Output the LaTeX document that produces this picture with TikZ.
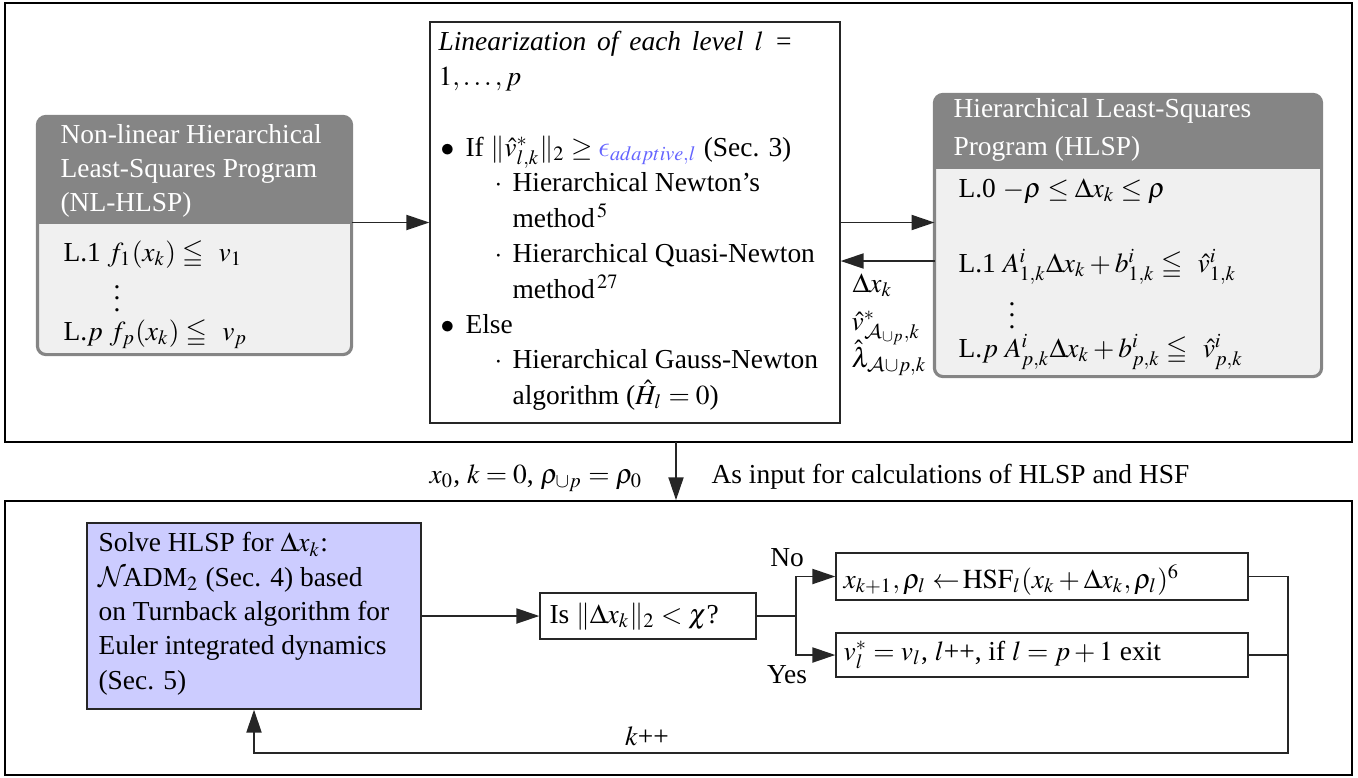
\documentclass[tikz,border=0pt]{standalone}
\usepackage{amsmath}
\usepackage{mathptmx}
\usepackage{amssymb}
\DeclareSymbolFont{cmletters}{OML}{cmm}{m}{it}
\DeclareMathSymbol{\lunateps}{\mathord}{cmletters}{"0F}
\DeclareMathAlphabet{\mathcal}{OMS}{cmsy}{m}{n}
\usepackage[no-math]{fontspec}
\setmainfont{Liberation Serif}
\usetikzlibrary{arrows.meta,fit,calc}
\definecolor{hdrgray}{RGB}{133,133,133}
\definecolor{bodygray}{RGB}{240,240,240}
\definecolor{solvefill}{RGB}{204,204,255}
\definecolor{epsblue}{RGB}{100,100,255}
\begin{document}
\begin{tikzpicture}[x=0.35pt,y=-0.35pt,
  font=\fontsize{9.6}{12}\selectfont,
  >={Triangle[length=8pt,width=5.3pt]},
  outerbox/.style={draw=black, line width=0.6pt},
  plainbox/.style={draw=black!85, line width=0.5pt, inner sep=0},
  conn/.style={draw=black!85, line width=0.5pt},
  txt/.style={anchor=base west, inner sep=0, align=left},
  hdrtxt/.style={txt, text=white},
  gframe/.style={draw=hdrgray, line width=1.1pt, rounded corners=3pt},
]
\useasboundingbox (0,0) rectangle (1358,777);

% outer frames
\node[outerbox, fit={(5,3)(1352,442)}, inner sep=0] (top) {};
\node[outerbox, fit={(5,501)(1352,775)}, inner sep=0] (bot) {};

% ---- NL-HLSP box
\node[fit={(38,117)(351,354)}, inner sep=0, fill=bodygray, rounded corners=3pt] (nl) {};
\begin{scope}
  \clip[rounded corners=3pt] (nl.north west) rectangle (nl.south east);
  \fill[hdrgray] (nl.north west) rectangle (351,224);
\end{scope}
\draw[gframe] (nl.north west) rectangle (nl.south east);
% base anchor = baseline of last line
\node[hdrtxt, font=\fontsize{9.6}{12}\selectfont] (nlh) at (60,211.6) {Non-linear Hierarchical\\Least-Squares Program\\(NL-HLSP)};
\node[txt] (nl1) at (63,261) {L.1 $f_1(x_k) \leqq\;\, v_1$};
\node[inner sep=0] (nld) at (117,290) {$\vdots$};
\node[txt] (nlp) at (63,340) {L.$p$ $f_p(x_k) \leqq\;\, v_p$};

% ---- Linearization box
\node[plainbox, fit={(430,22)(840,423)}] (cb) {};
\node[txt, font=\fontsize{9.6}{12.4}\selectfont] (cbt) at (438,404.3) {%
\makebox[124pt][s]{\itshape Linearization of each level $l$ =}\\
$1,\ldots,p$\\
\mbox{}\\
\makebox[9.45pt][l]{\hspace{0.7pt}$\bullet$}If $\|\hat{v}^*_{l,k}\|_2 \geq {\color{epsblue}\lunateps_{adaptive,l}}$ (Sec. 3)\\
\hspace*{19.6pt}\makebox[6.3pt][l]{$\cdot$}Hierarchical Newton's\\
\hspace*{25.9pt}method$^{\,5}$\\
\hspace*{19.6pt}\makebox[6.3pt][l]{$\cdot$}Hierarchical Quasi-Newton\\
\hspace*{25.9pt}method$^{\,27}$\\
\makebox[9.45pt][l]{\hspace{0.7pt}$\bullet$}Else\\
\hspace*{19.6pt}\makebox[6.3pt][l]{$\cdot$}Hierarchical Gauss-Newton\\
\hspace*{25.9pt}algorithm ($\hat{H}_l = 0$)};

% ---- HLSP box
\node[fit={(935,95)(1321,376)}, inner sep=0, fill=bodygray, rounded corners=3pt] (hl) {};
\begin{scope}
  \clip[rounded corners=3pt] (hl.north west) rectangle (hl.south east);
  \fill[hdrgray] (hl.north west) rectangle (1321,169);
\end{scope}
\draw[gframe] (hl.north west) rectangle (hl.south east);
\node[hdrtxt, font=\fontsize{9.6}{13}\selectfont] (hlh) at (953,155.1) {Hierarchical Least-Squares\\Program (HLSP)};
\node[txt] (hl0) at (958,197) {L.0 $-\rho \leq \Delta x_k \leq \rho$};
\node[txt] (hl1) at (958,272) {L.1 $A^i_{1,k}\Delta x_k + b^i_{1,k} \leqq\;\, \hat{v}^i_{1,k}$};
\node[inner sep=0] (hld) at (1012,307) {$\vdots$};
\node[txt] (hlp) at (958,357) {L.$p$ $A^i_{p,k}\Delta x_k + b^i_{p,k} \leqq\;\, \hat{v}^i_{p,k}$};

% connectors top
\draw[conn,->] (cb.west -| nl.east) -- (cb.west);
\draw[conn,->] (cb.east) -- (cb.east -| hl.west);
\coordinate (back) at (935,261);
\draw[conn,->] (back) -- (back -| cb.east);
\node[txt] (l1) at (852,292) {$\Delta x_k$};
\node[txt] (l2) at (851,330) {$\hat{v}^*_{\mathcal{A}_{\cup p},k}$};
\node[txt] (l3) at (851,367) {$\hat{\lambda}_{\mathcal{A}\cup p,k}$};

% between frames
\coordinate (dtop) at (676,442);
\draw[conn,->] (dtop) -- (dtop |- bot.north);
\node[anchor=base east, inner sep=0] (init) at (643,483) {$x_0$, $k = 0$, $\rho_{\cup p} = \rho_0$};
\node[anchor=base west, inner sep=0] (inp) at (711,483) {As input for calculations of HLSP and HSF};

% ---- bottom row
\node[plainbox, fill=solvefill, fit={(87,523)(421,709)}] (solve) {};
\node[txt] (solvet) at (98,689.1) {Solve HLSP for $\Delta x_k$:\\$\mathcal{N}\!$ADM$_2$ (Sec. 4) based\\on Turnback algorithm for\\Euler integrated dynamics\\(Sec. 5)};

\node[plainbox, fit={(540,593)(756,639)}] (is) {};
\node[txt] (ist) at (549,623) {Is $\|\Delta x_k\|_2 < \chi$?};

\node[plainbox, fit={(836,553)(1248,600)}] (b1) {};
\node[txt] (b1t) at (843,588) {$x_{k+1}, \rho_l \leftarrow\!\mathrm{HSF}_l(x_k + \Delta x_k, \rho_l)^6$};
\node[plainbox, fit={(836,633)(1248,677)}] (b2) {};
\node[txt] (b2t) at (843,660) {$v^*_l = v_l$, $l$++, if $l = p + 1$ exit};

\draw[conn,->] (solve.east) -- (is.west);
\coordinate (split) at (796,616);
\draw[conn] (is.east) -- (split);
\draw[conn,->] (split) |- (b1.west);
\draw[conn,->] (split) |- (b2.west);
\node[anchor=base, inner sep=0] (no) at (787,566) {No};
\node[anchor=base, inner sep=0] (yes) at (787,683) {Yes};

\coordinate (ret) at (1288,753);
\draw[conn,->] (b1.east) -| (ret) -| (solve.south);
\draw[conn] (b2.east) -- (b2.east -| ret);
\node[anchor=base, inner sep=0] (kpp) at (647,745) {$k$++};
\end{tikzpicture}
\end{document}
